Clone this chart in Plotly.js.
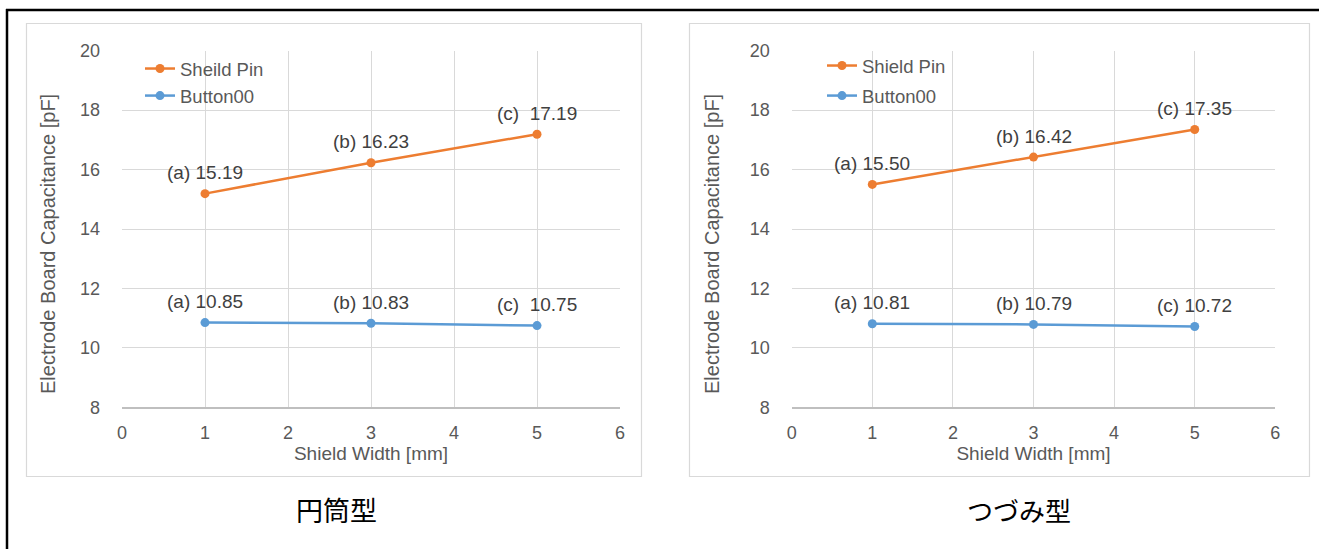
<!DOCTYPE html>
<html>
<head>
<meta charset="utf-8">
<script src="https://cdn.plot.ly/plotly-3.0.1.min.js"></script>
<style>html,body{margin:0;padding:0;background:#fff;}#chart{width:1319px;height:549px;}</style>
</head>
<body>
<div id="chart"></div>
<script>
// ---- data ----
var shieldWidth = [1, 3, 5];
var leftShieldPin = [15.19, 16.23, 17.19];
var leftButton00 = [10.85, 10.83, 10.75];
var rightShieldPin = [15.50, 16.42, 17.35];
var rightButton00 = [10.81, 10.79, 10.72];
var leftLabelPrefix = ['(a) ', '(b) ', '(c)  '];
var rightLabelPrefix = ['(a) ', '(b) ', '(c) '];
var leftSeriesNames = ['Sheild Pin', 'Button00'];
var rightSeriesNames = ['Shield Pin', 'Button00'];
var captions = ['円筒型', 'つづみ型'];
var xTitle = 'Shield Width [mm]';
var yTitle = 'Electrode Board Capacitance [pF]';

// ---- geometry helpers ----
var W = 1319, H = 549;
function px(x){ return x / W; }
function py(y){ return 1 - y / H; }

var ORANGE = '#ED7D31', BLUE = '#5B9BD5';
var TXT = '#595959', LBL = '#404040';
var FONT = 'Liberation Sans, Arial, sans-serif';

function series(x, y, name, color, xa, ya, leg, grp){
  return {x: x, y: y, name: name, type: 'scatter', mode: 'lines+markers',
    xaxis: xa, yaxis: ya, legend: leg, legendgroup: grp,
    line: {color: color, width: 2.5}, marker: {color: color, size: 9},
    hoverinfo: 'x+y'};
}

var data = [
  series(shieldWidth, leftShieldPin, leftSeriesNames[0], ORANGE, 'x', 'y', 'legend', 'a'),
  series(shieldWidth, leftButton00, leftSeriesNames[1], BLUE, 'x', 'y', 'legend', 'b'),
  series(shieldWidth, rightShieldPin, rightSeriesNames[0], ORANGE, 'x2', 'y2', 'legend2', 'c'),
  series(shieldWidth, rightButton00, rightSeriesNames[1], BLUE, 'x2', 'y2', 'legend2', 'd')
];

var annotations = [];
function addLabels(xs, ys, prefixes, xref, yref){
  for (var i = 0; i < xs.length; i++){
    annotations.push({x: xs[i], y: ys[i], xref: xref, yref: yref,
      text: prefixes[i] + ys[i].toFixed(2), showarrow: false,
      yshift: 21, xanchor: 'center', yanchor: 'middle',
      font: {family: FONT, size: 19, color: LBL}});
  }
}
addLabels(shieldWidth, leftShieldPin, leftLabelPrefix, 'x', 'y');
addLabels(shieldWidth, leftButton00, leftLabelPrefix, 'x', 'y');
addLabels(shieldWidth, rightShieldPin, rightLabelPrefix, 'x2', 'y2');
addLabels(shieldWidth, rightButton00, rightLabelPrefix, 'x2', 'y2');

// y-axis titles (rotated) placed as in the reference
[48, 712].forEach(function(xp){
  annotations.push({xref: 'paper', yref: 'paper', x: px(xp), y: py(244), text: yTitle,
    textangle: -90, showarrow: false, xanchor: 'center', yanchor: 'middle',
    font: {family: FONT, size: 20, color: TXT}});
});

annotations.push({xref: 'paper', yref: 'paper', x: px(336), y: py(509), text: captions[0],
  showarrow: false, xanchor: 'center', yanchor: 'middle',
  font: {family: 'Noto Sans CJK JP, sans-serif', size: 27, color: '#000'}});
annotations.push({xref: 'paper', yref: 'paper', x: px(1019), y: py(509), text: captions[1],
  showarrow: false, xanchor: 'center', yanchor: 'middle',
  font: {family: 'Noto Sans CJK JP, sans-serif', size: 26, color: '#000'}});

function xaxisDef(d0, d1, anchor){
  return {domain: [px(d0), px(d1)], range: [0, 6], dtick: 1, tick0: 0, anchor: anchor,
    showgrid: true, gridcolor: '#d9d9d9', gridwidth: 1, zeroline: false,
    showline: true, linecolor: '#bfbfbf', linewidth: 1.5, ticks: '', ticklabelstandoff: 8,
    tickfont: {family: FONT, size: 18, color: TXT}, fixedrange: true,
    title: {text: xTitle, standoff: 5, font: {family: FONT, size: 19, color: TXT}}};
}
function yaxisDef(anchor){
  return {domain: [py(407.3), py(50.7)], range: [8, 20], dtick: 2, tick0: 8, anchor: anchor,
    showgrid: true, gridcolor: '#d9d9d9', gridwidth: 1, zeroline: false,
    showline: false, ticks: '', ticklabelstandoff: 21,
    tickfont: {family: FONT, size: 18, color: TXT}, fixedrange: true};
}

var shapes = [
  // outer black frame (top and left)
  {type: 'line', xref: 'paper', yref: 'paper', x0: px(6), x1: px(1319), y0: py(10), y1: py(10), line: {color: '#000', width: 2.5}},
  {type: 'line', xref: 'paper', yref: 'paper', x0: px(7), x1: px(7), y0: py(9), y1: py(549), line: {color: '#000', width: 2.5}},
  // panel borders
  {type: 'rect', xref: 'paper', yref: 'paper', x0: px(26.5), x1: px(641.5), y0: py(476.5), y1: py(23.5), line: {color: '#d9d9d9', width: 1.2}},
  {type: 'rect', xref: 'paper', yref: 'paper', x0: px(689.5), x1: px(1309.5), y0: py(476.5), y1: py(23.5), line: {color: '#d9d9d9', width: 1.2}}
];

var legendFont = {family: FONT, size: 18.5, color: TXT};
var layout = {
  width: W, height: H, margin: {l: 0, r: 0, t: 0, b: 0},
  paper_bgcolor: '#fff', plot_bgcolor: '#fff',
  xaxis: xaxisDef(122, 620, 'y'),
  yaxis: yaxisDef('x'),
  xaxis2: xaxisDef(791.7, 1275.3, 'y2'),
  yaxis2: yaxisDef('x2'),
  legend: {x: px(140), y: py(50), xanchor: 'left', yanchor: 'top', bgcolor: 'rgba(0,0,0,0)',
    font: legendFont, traceorder: 'grouped', tracegroupgap: 0, itemwidth: 30},
  legend2: {x: px(822), y: py(47), xanchor: 'left', yanchor: 'top', bgcolor: 'rgba(0,0,0,0)',
    font: legendFont, traceorder: 'grouped', tracegroupgap: 3, itemwidth: 30},
  showlegend: true,
  annotations: annotations,
  shapes: shapes
};

Plotly.newPlot('chart', data, layout, {displayModeBar: false, staticPlot: false});
</script>
</body>
</html>
